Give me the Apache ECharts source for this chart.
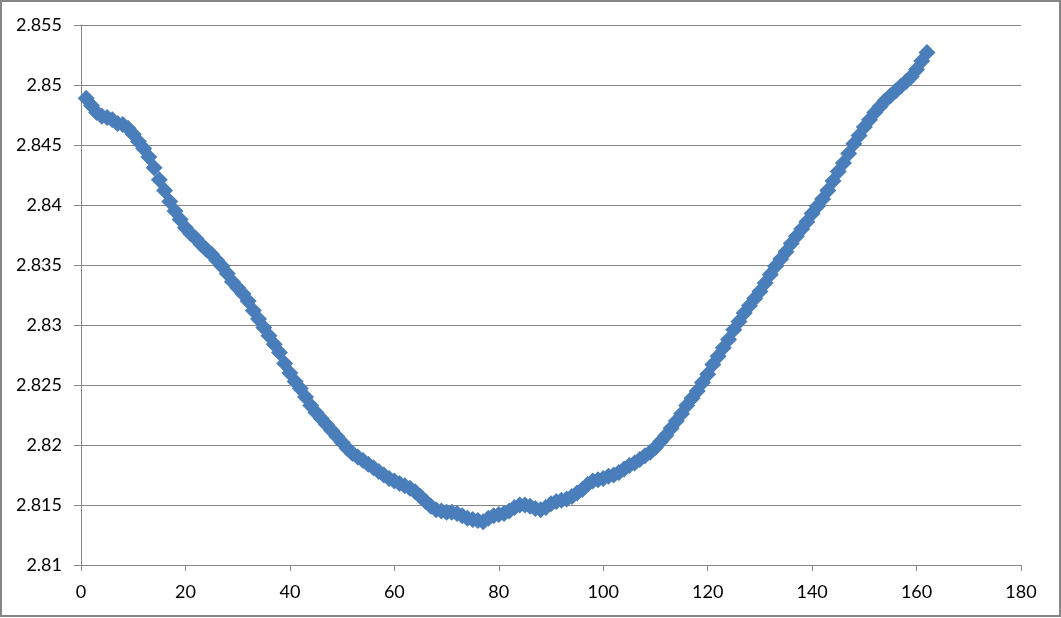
<!DOCTYPE html>
<html>
<head>
<meta charset="utf-8">
<script src="https://cdn.jsdelivr.net/npm/echarts@6/dist/echarts.min.js"></script>
<style>
html,body{margin:0;padding:0;background:#fff;}
#c{width:1061px;height:618px;}
</style>
</head>
<body>
<div id="c"></div>
<script>
const xStart = 1;
const yValues = [
2.8489,2.8483,2.8477,2.8474,2.8473,2.8471,2.8468,2.8467,2.8464,2.8459,
2.8453,2.8447,2.8440,2.8431,2.8421,2.8412,2.8403,2.8395,2.8388,2.8381,
2.8376,2.8372,2.8367,2.8363,2.8359,2.8354,2.8349,2.8343,2.8336,2.8331,
2.8326,2.8320,2.8312,2.8305,2.8298,2.8291,2.8284,2.8277,2.8268,2.8260,
2.8253,2.8247,2.8240,2.8233,2.8227,2.8222,2.8217,2.8212,2.8207,2.8202,
2.8197,2.8193,2.8190,2.8187,2.8184,2.8181,2.8178,2.8175,2.8172,2.8170,
2.8168,2.8166,2.8164,2.8161,2.8157,2.8153,2.8149,2.8146,2.8145,2.8144,
2.8144,2.8143,2.8141,2.8139,2.8138,2.8137,2.8136,2.8139,2.8141,2.8142,
2.8143,2.8145,2.8148,2.8150,2.8150,2.8149,2.8147,2.8146,2.8148,2.8151,
2.8153,2.8154,2.8155,2.8157,2.8160,2.8163,2.8167,2.8170,2.8171,2.8172,
2.8174,2.8175,2.8177,2.8180,2.8183,2.8185,2.8188,2.8191,2.8194,2.8198,
2.8203,2.8208,2.8214,2.8220,2.8226,2.8233,2.8239,2.8245,2.8252,2.8259,
2.8267,2.8274,2.8281,2.8288,2.8296,2.8303,2.8310,2.8316,2.8322,2.8328,
2.8335,2.8342,2.8349,2.8355,2.8361,2.8368,2.8374,2.8380,2.8386,2.8393,
2.8399,2.8405,2.8412,2.8420,2.8428,2.8435,2.8443,2.8451,2.8458,2.8465,
2.8471,2.8477,2.8482,2.8487,2.8491,2.8495,2.8499,2.8503,2.8507,2.8513,
2.8520,2.8527
];
const xValues = yValues.map((_, i) => xStart + i);
const yTickLabels = ['2.81','2.815','2.82','2.825','2.83','2.835','2.84','2.845','2.85','2.855'];
const xTickLabels = ['0','20','40','60','80','100','120','140','160','180'];

const points = xValues.map((x, i) => [x, yValues[i]]);
const gray = '#868686';
const font = 'Lato, "Open Sans", "Liberation Sans", sans-serif';

const chart = echarts.init(document.getElementById('c'));
chart.setOption({
  animation: false,
  backgroundColor: '#fff',
  grid: {left: 81, right: 40, top: 25, bottom: 53, containLabel: false},
  graphic: [{
    type: 'rect',
    shape: {x: 1, y: 1, width: 1059, height: 615},
    style: {fill: 'none', stroke: gray, lineWidth: 2},
    silent: true
  }],
  xAxis: {
    type: 'value',
    min: 0, max: 180, interval: 20,
    axisLine: {show: true, lineStyle: {color: gray, width: 1}},
    axisTick: {show: true, length: 6, lineStyle: {color: gray}},
    splitLine: {show: false},
    axisLabel: {
      color: '#000', fontFamily: font, fontSize: 18, margin: 18,
      formatter: v => xTickLabels[Math.round(v / 20)] ?? String(v)
    }
  },
  yAxis: {
    type: 'value',
    min: 2.81, max: 2.855, interval: 0.005,
    axisLine: {show: true, lineStyle: {color: gray, width: 1}},
    axisTick: {show: true, length: 7, lineStyle: {color: gray}},
    splitLine: {show: true, lineStyle: {color: gray, width: 1}},
    axisLabel: {
      color: '#000', fontFamily: font, fontSize: 18, margin: 19,
      formatter: v => yTickLabels[Math.round((v - 2.81) / 0.005)] ?? String(v)
    }
  },
  series: [{
    type: 'scatter',
    data: points,
    symbol: 'diamond',
    symbolSize: 17,
    itemStyle: {color: '#4a7ebb', opacity: 1}
  }]
});
</script>
</body>
</html>
